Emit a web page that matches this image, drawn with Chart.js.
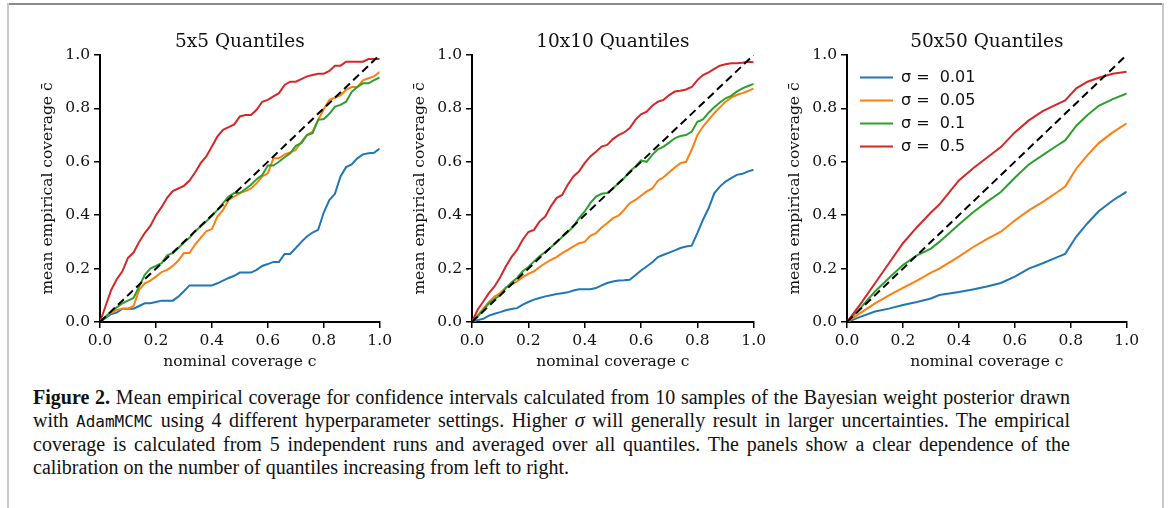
<!DOCTYPE html>
<html>
<head>
<meta charset="utf-8">
<script src="https://cdn.jsdelivr.net/npm/chart.js@4.4.1/dist/chart.umd.min.js"></script>
<style>
  html, body { margin: 0; padding: 0; background: #fff; }
  body { width: 1170px; height: 508px; position: relative; overflow: hidden; }
  canvas { position: absolute; top: 20px; }
  .frame-top { position: absolute; left: 7px; top: 3px; width: 1157px; height: 2px; background: #8a8a8a; }
  .frame-left { position: absolute; left: 7px; top: 3px; width: 2px; height: 505px; background: #c9c9c9; }
  .frame-right { position: absolute; left: 1162px; top: 3px; width: 2px; height: 505px; background: #c9c9c9; }
  .caption {
    position: absolute; left: 33px; top: 386px; width: 1037px;
    font-family: 'Liberation Serif', serif; font-size: 20px; line-height: 23px;
    color: #111;
  }
  .caption .ln { white-space: nowrap; text-align: justify; text-align-last: justify; }
  .caption .ln.last { text-align: left; text-align-last: left; }
  .caption code { font-family: 'DejaVu Sans Mono', monospace; font-size: 16px; }
</style>
</head>
<body>
<div class="frame-top"></div>
<div class="frame-left"></div>
<div class="frame-right"></div>

<canvas id="p5" width="376" height="352" style="left:20px"></canvas>
<canvas id="p10" width="378" height="352" style="left:392px"></canvas>
<canvas id="p50" width="376" height="352" style="left:767px"></canvas>

<div class="caption">
<div class="ln"><b>Figure 2.</b> Mean empirical coverage for confidence intervals calculated from 10 samples of the Bayesian weight posterior drawn</div>
<div class="ln">with <code>AdamMCMC</code> using 4 different hyperparameter settings. Higher <i>σ</i> will generally result in larger uncertainties. The empirical</div>
<div class="ln">coverage is calculated from 5 independent runs and averaged over all quantiles. The panels show a clear dependence of the</div>
<div class="ln last">calibration on the number of quantiles increasing from left to right.</div>
</div>

<script>
// nominal coverage grid for the 5x5 and 10x10 panels
var xGrid = [0, 0.02, 0.04, 0.06, 0.08, 0.10, 0.12, 0.14, 0.16, 0.18,
  0.20, 0.22, 0.24, 0.26, 0.28, 0.30, 0.32, 0.34, 0.36, 0.38,
  0.40, 0.42, 0.44, 0.46, 0.48, 0.50, 0.52, 0.54, 0.56, 0.58,
  0.60, 0.62, 0.64, 0.66, 0.68, 0.70, 0.72, 0.74, 0.76, 0.78,
  0.80, 0.82, 0.84, 0.86, 0.88, 0.90, 0.92, 0.94, 0.96, 0.98, 1.0];

// 5x5 quantiles
var q5_s001 = [0, 0.015, 0.03, 0.035, 0.05, 0.05, 0.05, 0.06, 0.07, 0.07,
  0.075, 0.08, 0.08, 0.08, 0.095, 0.115, 0.137, 0.137, 0.137, 0.137,
  0.137, 0.145, 0.155, 0.165, 0.173, 0.185, 0.185, 0.185, 0.195, 0.21,
  0.217, 0.225, 0.225, 0.255, 0.255, 0.277, 0.30, 0.32, 0.335, 0.345,
  0.41, 0.457, 0.48, 0.545, 0.58, 0.59, 0.613, 0.628, 0.632, 0.634, 0.65];
var q5_s005 = [0, 0.02, 0.035, 0.045, 0.05, 0.05, 0.06, 0.12, 0.145, 0.155,
  0.17, 0.187, 0.195, 0.21, 0.23, 0.258, 0.258, 0.29, 0.315, 0.34,
  0.348, 0.395, 0.42, 0.457, 0.47, 0.483, 0.49, 0.50, 0.52, 0.545,
  0.557, 0.613, 0.613, 0.628, 0.635, 0.645, 0.675, 0.70, 0.713, 0.757,
  0.797, 0.832, 0.84, 0.85, 0.87, 0.88, 0.88, 0.905, 0.913, 0.92, 0.937];
var q5_s01 = [0, 0.02, 0.04, 0.055, 0.07, 0.08, 0.09, 0.133, 0.177, 0.20,
  0.21, 0.22, 0.25, 0.258, 0.277, 0.298, 0.315, 0.34, 0.358, 0.377,
  0.398, 0.42, 0.445, 0.47, 0.483, 0.483, 0.498, 0.514, 0.535, 0.55,
  0.586, 0.586, 0.60, 0.617, 0.632, 0.66, 0.67, 0.70, 0.707, 0.757,
  0.76, 0.78, 0.807, 0.813, 0.825, 0.862, 0.88, 0.894, 0.894, 0.906, 0.916];
var q5_s05 = [0, 0.06, 0.12, 0.16, 0.19, 0.24, 0.26, 0.30, 0.333, 0.36,
  0.40, 0.43, 0.465, 0.49, 0.50, 0.51, 0.53, 0.56, 0.595, 0.62,
  0.657, 0.695, 0.72, 0.73, 0.74, 0.77, 0.775, 0.775, 0.795, 0.825,
  0.832, 0.845, 0.857, 0.888, 0.90, 0.90, 0.91, 0.92, 0.925, 0.93,
  0.93, 0.94, 0.96, 0.96, 0.975, 0.975, 0.975, 0.975, 0.985, 0.985, 0.985];

// 10x10 quantiles
var q10_s001 = [0, 0.007, 0.012, 0.024, 0.031, 0.037, 0.044, 0.049, 0.052, 0.065,
  0.075, 0.084, 0.09, 0.096, 0.10, 0.105, 0.108, 0.111, 0.118, 0.123,
  0.123, 0.123, 0.127, 0.137, 0.146, 0.152, 0.155, 0.156, 0.158, 0.175,
  0.193, 0.208, 0.224, 0.243, 0.252, 0.26, 0.268, 0.277, 0.283, 0.286,
  0.333, 0.383, 0.426, 0.482, 0.507, 0.526, 0.539, 0.551, 0.555, 0.564, 0.57];
var q10_s005 = [0, 0.025, 0.05, 0.075, 0.095, 0.108, 0.13, 0.14, 0.152, 0.168,
  0.18, 0.19, 0.206, 0.22, 0.233, 0.243, 0.258, 0.27, 0.283, 0.295,
  0.30, 0.323, 0.333, 0.354, 0.37, 0.389, 0.398, 0.42, 0.445, 0.457,
  0.473, 0.489, 0.50, 0.529, 0.542, 0.561, 0.579, 0.595, 0.60, 0.645,
  0.70, 0.732, 0.757, 0.782, 0.804, 0.825, 0.84, 0.85, 0.857, 0.865, 0.875];
var q10_s01 = [0, 0.02, 0.045, 0.07, 0.086, 0.10, 0.127, 0.148, 0.165, 0.19,
  0.206, 0.227, 0.246, 0.262, 0.28, 0.298, 0.318, 0.337, 0.358, 0.389,
  0.414, 0.445, 0.47, 0.48, 0.483, 0.50, 0.52, 0.539, 0.564, 0.582,
  0.605, 0.60, 0.626, 0.647, 0.657, 0.672, 0.688, 0.697, 0.70, 0.713,
  0.75, 0.759, 0.784, 0.804, 0.822, 0.838, 0.847, 0.863, 0.875, 0.884, 0.892];
var q10_s05 = [0, 0.046, 0.077, 0.108, 0.133, 0.168, 0.208, 0.243, 0.27, 0.308,
  0.337, 0.345, 0.377, 0.395, 0.433, 0.464, 0.476, 0.514, 0.545, 0.564,
  0.595, 0.62, 0.638, 0.657, 0.663, 0.685, 0.70, 0.71, 0.726, 0.757,
  0.778, 0.788, 0.81, 0.825, 0.832, 0.85, 0.863, 0.866, 0.871, 0.88,
  0.906, 0.925, 0.935, 0.948, 0.96, 0.965, 0.969, 0.969, 0.971, 0.975, 0.973];

// 50x50 quantiles (smoother curve, coarser reading)
var x50 = [0, 0.05, 0.1, 0.15, 0.2, 0.25, 0.3, 0.33, 0.4, 0.45, 0.5,
  0.55, 0.6, 0.65, 0.7, 0.75, 0.78, 0.82, 0.86, 0.9, 0.95, 1.0];
var q50_s001 = [0, 0.02, 0.039, 0.05, 0.064, 0.075, 0.088, 0.101, 0.112, 0.122, 0.133,
  0.146, 0.17, 0.2, 0.22, 0.242, 0.255, 0.32, 0.37, 0.415, 0.455, 0.488];
var q50_s005 = [0, 0.035, 0.07, 0.1, 0.128, 0.155, 0.185, 0.2, 0.245, 0.28, 0.31,
  0.338, 0.38, 0.418, 0.45, 0.485, 0.507, 0.575, 0.625, 0.67, 0.71, 0.744];
var q50_s01 = [0, 0.055, 0.114, 0.165, 0.213, 0.25, 0.275, 0.30, 0.365, 0.41, 0.45,
  0.487, 0.54, 0.59, 0.625, 0.66, 0.68, 0.735, 0.775, 0.81, 0.835, 0.856];
var q50_s05 = [0, 0.07, 0.145, 0.22, 0.295, 0.355, 0.41, 0.44, 0.53, 0.575, 0.615,
  0.655, 0.71, 0.755, 0.79, 0.815, 0.83, 0.875, 0.9, 0.915, 0.93, 0.937];

var sigmaLabels = ['σ =  0.01', 'σ =  0.05', 'σ =  0.1', 'σ =  0.5'];
var sigmaColors = ['#1f77b4', '#ff7f0e', '#2ca02c', '#d62728'];
var axisTicks = [0, 0.2, 0.4, 0.6, 0.8, 1.0];

var SERIF = "'DejaVu Serif', serif";

function toPoints(xs, ys) {
  return ys.map(function(y, i) { return { x: xs[i], y: y }; });
}

function axis(titleText, isX) {
  return {
    type: 'linear',
    min: 0, max: 1,
    afterBuildTicks: function(scale) {
      scale.ticks = axisTicks.map(function(v) { return { value: v }; });
    },
    afterFit: function(scale) {
      if (isX) scale.height = 50; else scale.width = 80;
    },
    ticks: {
      autoSkip: false, maxRotation: 0, padding: 4, color: '#111',
      font: { family: SERIF, size: 15.5 },
      callback: function(v) { return v.toFixed(1); }
    },
    grid: { drawOnChartArea: false, drawTicks: true, tickLength: 6, color: '#000', lineWidth: 1.5 },
    border: { display: true, color: '#000', width: 2 },
    title: {
      display: true, text: titleText, color: '#111',
      font: { family: SERIF, size: 15.5 },
      padding: isX ? { top: 0, bottom: 1 } : { top: 18.7, bottom: 0 }
    }
  };
}

// puts the in-plot legend where matplotlib has it (upper left, inset)
var legendNudge = {
  id: 'legendNudge',
  afterLayout: function(chart) {
    var lg = chart.legend;
    if (lg && chart.options.plugins.legend.display) {
      var h = lg.bottom - lg.top;
      lg.left = chart.chartArea.left + 6;
      lg.top = chart.chartArea.top + 7.5;
      lg.bottom = lg.top + h;
    }
  }
};

function renderPanel(canvasId, title, xs, series, showLegend) {
  var datasets = series.map(function(ys, i) {
    return {
      label: sigmaLabels[i],
      data: toPoints(xs, ys),
      borderColor: sigmaColors[i],
      backgroundColor: sigmaColors[i],
      borderWidth: 2,
      pointRadius: 0,
      tension: 0,
      order: 4 - i
    };
  });
  datasets.push({
    label: 'ideal',
    data: toPoints([0, 1], [0, 1]),
    borderColor: '#000',
    borderWidth: 2,
    borderDash: [8, 4.5],
    pointRadius: 0,
    order: 0,
    _isRef: true
  });

  var ctx = document.getElementById(canvasId).getContext('2d');
  return new Chart(ctx, {
    type: 'line',
    data: { datasets: datasets },
    options: {
      responsive: false,
      animation: false,
      devicePixelRatio: 1,
      layout: { padding: { left: 0, right: 15, top: 0, bottom: 0 } },
      scales: {
        x: axis('nominal coverage c', true),
        y: axis('mean empirical coverage c̄', false)
      },
      plugins: {
        title: {
          display: true, text: title, color: '#111',
          fullSize: false,
          font: { family: SERIF, size: 18.5, weight: 'normal' },
          padding: { top: 11, bottom: 1.8 }
        },
        tooltip: { enabled: false },
        legend: {
          display: showLegend,
          position: 'chartArea',
          align: 'start',
          labels: {
            usePointStyle: true,
            pointStyle: 'line',
            pointStyleWidth: 33,
            padding: 7,
            color: '#111',
            font: { family: "'DejaVu Sans', sans-serif", size: 16, lineHeight: 1 },
            filter: function(item, data) { return !data.datasets[item.datasetIndex]._isRef; },
            sort: function(a, b) { return a.datasetIndex - b.datasetIndex; }
          }
        }
      }
    },
    plugins: [legendNudge]
  });
}

renderPanel('p5', '5x5 Quantiles', xGrid, [q5_s001, q5_s005, q5_s01, q5_s05], false);
renderPanel('p10', '10x10 Quantiles', xGrid, [q10_s001, q10_s005, q10_s01, q10_s05], false);
renderPanel('p50', '50x50 Quantiles', x50, [q50_s001, q50_s005, q50_s01, q50_s05], true);
</script>
</body>
</html>
